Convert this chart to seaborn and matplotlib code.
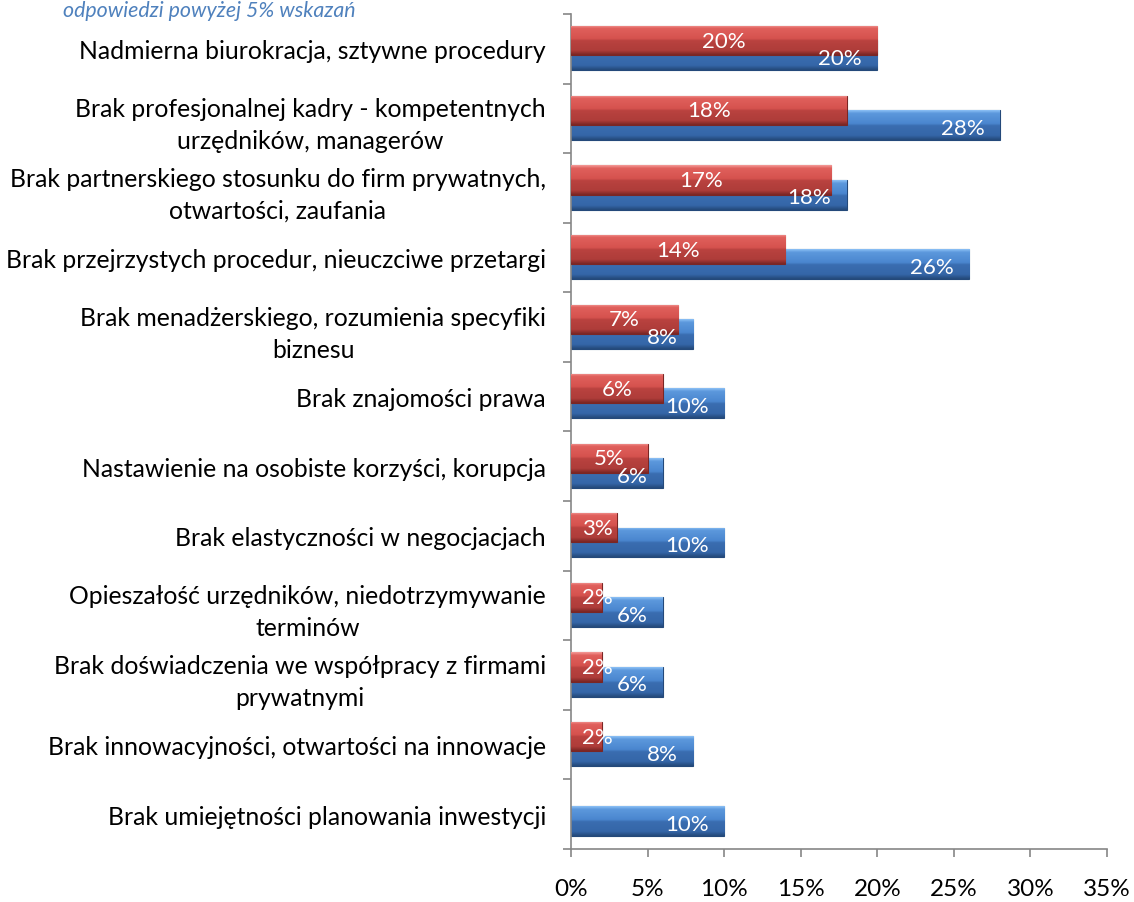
import numpy as np
import pandas as pd
import seaborn as sns
import matplotlib.pyplot as plt
from matplotlib.colors import LinearSegmentedColormap

# dane (%)
kategorie = [
    "Nadmierna biurokracja, sztywne procedury",
    "Brak profesjonalnej kadry - kompetentnych\nurzędników, managerów",
    "Brak partnerskiego stosunku do firm prywatnych,\notwartości, zaufania",
    "Brak przejrzystych procedur, nieuczciwe przetargi",
    "Brak menadżerskiego, rozumienia specyfiki\nbiznesu",
    "Brak znajomości prawa",
    "Nastawienie na osobiste korzyści, korupcja",
    "Brak elastyczności w negocjacjach",
    "Opieszałość urzędników, niedotrzymywanie\nterminów",
    "Brak doświadczenia we współpracy z firmami\nprywatnymi",
    "Brak innowacyjności, otwartości na innowacje",
    "Brak umiejętności planowania inwestycji",
]
seria_czerwona = [20, 18, 17, 14, 7, 6, 5, 3, 2, 2, 2, 0]
seria_niebieska = [20, 28, 18, 26, 8, 10, 6, 10, 6, 6, 8, 10]
os_x_ticks = [0, 5, 10, 15, 20, 25, 30, 35]

FONT = ["Lato", "DejaVu Sans"]

df_red = pd.DataFrame({"kategoria": kategorie, "wartosc": seria_czerwona})
df_blue = pd.DataFrame({"kategoria": kategorie, "wartosc": seria_niebieska})


def gradient_fill(ax, patches, stops):
    # pionowy gradient (efekt wypuklosci) przyciety do ksztaltu slupka
    cmap = LinearSegmentedColormap.from_list("g", stops)
    grad = np.linspace(0, 1, 64).reshape(-1, 1)
    for p in patches:
        w = p.get_width()
        if w <= 0:
            continue
        x0, y0, h = p.get_x(), p.get_y(), p.get_height()
        im = ax.imshow(grad, cmap=cmap, aspect="auto", origin="upper",
                       extent=(x0, x0 + w, y0 + h, y0), zorder=p.get_zorder() + 0.1,
                       interpolation="bilinear")
        im.set_clip_path(p)


def main():
    sns.set_style("white")
    plt.rcParams["font.family"] = FONT

    fig = plt.figure(figsize=(11.34, 9.03), dpi=100)
    ax = fig.add_axes([0.5035, 0.0587, 0.4727, 0.9247])

    # niebieska seria (z tylu)
    sns.barplot(data=df_blue, x="wartosc", y="kategoria", orient="h",
                color="#3C76BE", width=0.43, ax=ax, zorder=2)
    blue_patches = list(ax.patches)
    for p in blue_patches:
        p.set_y(p.get_y() + 0.095)
        p.set_edgecolor("#24497A")
        p.set_linewidth(0.8)

    # czerwona seria (z przodu)
    sns.barplot(data=df_red, x="wartosc", y="kategoria", orient="h",
                color="#C0504D", width=0.42, ax=ax, zorder=3)
    red_patches = [p for p in ax.patches if p not in blue_patches]
    for p in red_patches:
        p.set_y(p.get_y() - 0.115)
        p.set_edgecolor("#7A2624")
        p.set_linewidth(0.8 if p.get_width() > 0 else 0)
        p.set_zorder(4)

    gradient_fill(ax, blue_patches, [
        (0.00, "#8CC0F5"), (0.10, "#5C98DC"), (0.45, "#4A86CF"),
        (0.52, "#3A6DB0"), (0.85, "#3566A8"), (1.00, "#24497A")])
    gradient_fill(ax, red_patches, [
        (0.00, "#F49A97"), (0.10, "#E0605C"), (0.45, "#D5524E"),
        (0.52, "#B9423F"), (0.85, "#AF3D3A"), (1.00, "#7A2624")])

    # etykiety danych
    for i, (r, b) in enumerate(zip(seria_czerwona, seria_niebieska)):
        yb = blue_patches[i].get_y() + blue_patches[i].get_height() / 2
        ax.annotate(f"{b}%", xy=(b, yb), xytext=(-11, -2), textcoords="offset points",
                    ha="right", va="center", color="white", fontsize=16, zorder=6)
        if r > 0:
            yr = red_patches[i].get_y() + red_patches[i].get_height() / 2
            ax.text(max(r / 2, 1.7), yr, f"{r}%", ha="center", va="center",
                    color="white", fontsize=16, zorder=7)

    ax.set_xlim(0, 35)
    ax.set_ylim(len(kategorie) - 0.5, -0.5)
    ax.set_xticks(os_x_ticks)
    ax.set_xticklabels([f"{t}%" for t in os_x_ticks], fontsize=17.5)
    ax.set_yticks(range(len(kategorie)))
    ax.set_yticklabels(kategorie, fontsize=17.8, multialignment="center",
                       color="black", linespacing=1.45)
    ax.set_yticks(np.arange(-0.5, len(kategorie), 1), minor=True)
    ax.tick_params(axis="y", which="major", left=False, length=0, pad=18)
    ax.tick_params(axis="y", which="minor", left=True, length=6, color="#868686",
                   width=1.2, direction="out")
    ax.tick_params(axis="x", bottom=True, length=6, color="#868686", width=1.2,
                   direction="out", pad=15, labelcolor="black")
    ax.set_xlabel("")
    ax.set_ylabel("")

    for s in ["top", "right"]:
        ax.spines[s].set_visible(False)
    for s in ["left", "bottom"]:
        ax.spines[s].set_color("#868686")
        ax.spines[s].set_linewidth(1.2)

    fig.text(63 / 1134, 1 - 17 / 903, "odpowiedzi powyżej 5% wskazań",
             fontsize=15.4, style="italic", color="#4F81BD", ha="left", va="baseline")

    fig.savefig("out.png", dpi=100)


if __name__ == "__main__":
    main()
